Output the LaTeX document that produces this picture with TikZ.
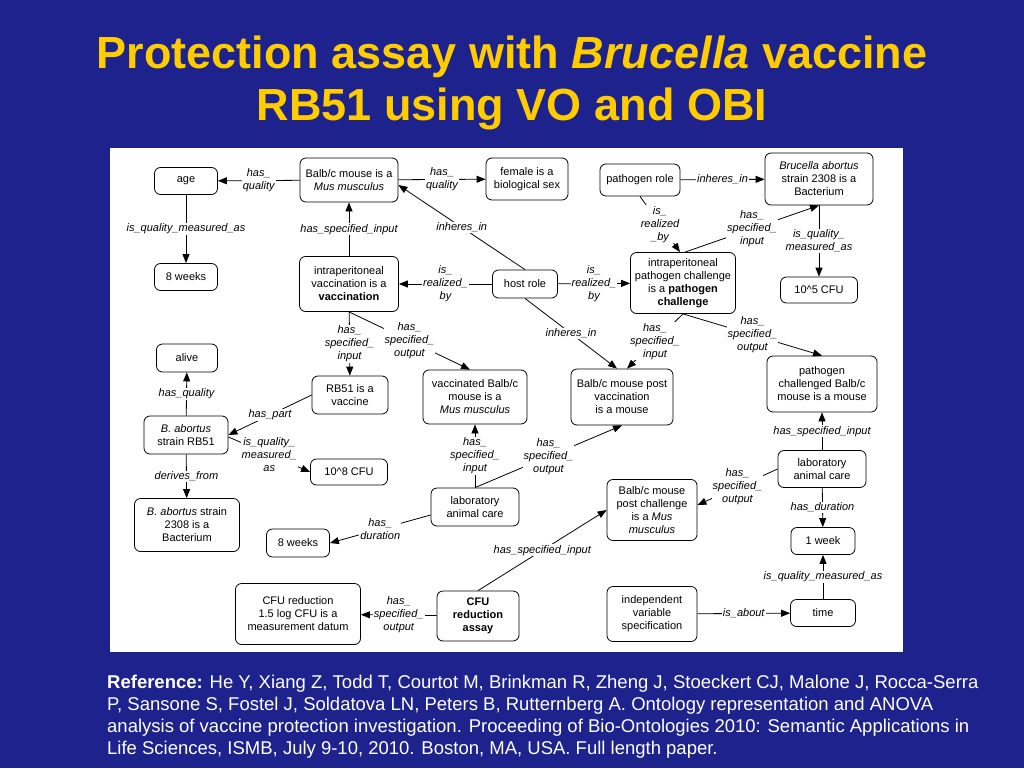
\documentclass[tikz,border=0pt]{standalone}
\usepackage{fontspec}
\setmainfont{Liberation Sans}
\usetikzlibrary{arrows.meta}
\definecolor{slideblue}{RGB}{30,34,140}
\definecolor{titleyellow}{RGB}{255,204,0}

\begin{document}
\begin{tikzpicture}[x=1pt, y=-1pt,
  box/.style={draw, line width=0.8pt, rounded corners=6pt, fill=white, align=center,
    inner sep=1pt, font=\fontsize{11}{13}\selectfont},
  rel/.style={fill=white, inner sep=1pt, align=center, font=\fontsize{11}{13}\selectfont\itshape},
  link/.style={line width=0.8pt, -{Triangle[length=9pt,width=7pt]}},
  reftext/.style={anchor=base west, inner sep=0pt, text=white, font=\fontsize{18.5}{22}\selectfont}]
  \useasboundingbox (0,0) rectangle (1024,768);
  \fill[slideblue] (0,0) rectangle (1024,768);
  \fill[white] (110,148) rectangle (903,652);
  % title
  \node[anchor=base, text=titleyellow, font=\fontsize{45}{52}\selectfont\bfseries] (titleA) at (512,68)
    {Protection assay with \textit{Brucella} vaccine};
  \node[anchor=base, text=titleyellow, font=\fontsize{45}{52}\selectfont\bfseries] (titleB) at (512,120)
    {RB51 using VO and OBI};
  % classes and instances
  \node[box, minimum width=63pt, minimum height=27pt] (age) at (186,181) {age};
  \node[box, minimum width=63pt, minimum height=27pt] (wkA) at (186,277) {8 weeks};
  \node[box, minimum width=98pt, minimum height=44pt] (mouse) at (349,180) {Balb/c mouse is a\\\textit{Mus musculus}};
  \node[box, minimum width=82pt, minimum height=42pt] (female) at (527,179) {female is a\\biological sex};
  \node[box, minimum width=80pt, minimum height=32pt] (prole) at (640,180) {pathogen role};
  \node[box, minimum width=108pt, minimum height=52pt] (bruc) at (819,179) {\textit{Brucella abortus}\\strain 2308 is a\\Bacterium};
  \node[box, minimum width=77pt, minimum height=26pt] (cfuV) at (819,290) {10\textasciicircum5 CFU};
  \node[box, minimum width=99pt, minimum height=55pt] (vacc) at (349,284) {intraperitoneal\\vaccination is a\\\textbf{vaccination}};
  \node[box, minimum width=65pt, minimum height=28pt] (host) at (525,284) {host role};
  \node[box, minimum width=105pt, minimum height=61pt] (chal) at (683,283) {intraperitoneal\\pathogen challenge\\is a \textbf{pathogen}\\\textbf{challenge}};
  \node[box, minimum width=61pt, minimum height=28pt] (alive) at (187,358) {alive};
  \node[box, minimum width=76pt, minimum height=38pt] (rb51) at (350,395) {RB51 is a\\vaccine};
  \node[box, minimum width=84pt, minimum height=38pt] (strRB) at (186,435) {\textit{B. abortus}\\strain RB51};
  \node[box, minimum width=104pt, minimum height=54pt] (vmouse) at (475,397) {vaccinated Balb/c\\mouse is a\\\textit{Mus musculus}};
  \node[box, minimum width=102pt, minimum height=56pt] (pvmouse) at (622,397) {Balb/c mouse post\\vaccination\\is a mouse};
  \node[box, minimum width=110pt, minimum height=56pt] (pcmouse) at (822,384) {pathogen\\challenged Balb/c\\mouse is a mouse};
  \node[box, minimum width=77pt, minimum height=26pt] (cfuVIII) at (349,472) {10\textasciicircum8 CFU};
  \node[box, minimum width=88pt, minimum height=37pt] (careR) at (822,469) {laboratory\\animal care};
  \node[box, minimum width=90pt, minimum height=61pt] (postch) at (652,510) {Balb/c mouse\\post challenge\\is a \textit{Mus}\\\textit{musculus}};
  \node[box, minimum width=105pt, minimum height=53pt] (str2308) at (187,525) {\textit{B. abortus} strain\\2308 is a\\Bacterium};
  \node[box, minimum width=88pt, minimum height=38pt] (careL) at (475,507) {laboratory\\animal care};
  \node[box, minimum width=63pt, minimum height=28pt] (wkB) at (298,543) {8 weeks};
  \node[box, minimum width=64pt, minimum height=27pt] (week) at (823,541) {1 week};
  \node[box, minimum width=125pt, minimum height=61pt] (datum) at (298,614) {CFU reduction\\1.5 log CFU is a\\measurement datum};
  \node[box, minimum width=82pt, minimum height=50pt, font=\fontsize{11}{13}\selectfont\bfseries] (assay) at (478,616) {CFU\\reduction\\assay};
  \node[box, minimum width=90pt, minimum height=55pt] (indep) at (652,614) {independent\\variable\\specification};
  \node[box, minimum width=65pt, minimum height=27pt] (time) at (823,613) {time};
  % relations
  \draw[link] (mouse) -- node[rel] {has\_\\quality} (age);
  \draw[link] (mouse) -- node[rel] {has\_\\quality} (female);
  \draw[link] (age) -- node[rel] {is\_quality\_measured\_as} (wkA);
  \draw[link] (vacc) -- node[rel] {has\_specified\_input} (mouse);
  \draw[link] (host.north) -- node[rel] {inheres\_in} ([yshift=-5pt]mouse.east);
  \draw[link] (host) -- node[rel] {is\_\\realized\_\\by} (vacc);
  \draw[link] (host) -- node[rel] {is\_\\realized\_\\by} (chal);
  \draw[link] (host.south) -- node[rel] {inheres\_in} ([xshift=-5pt]pvmouse.north);
  \draw[link] (prole) -- node[rel] {inheres\_in} (bruc);
  \draw[link] (prole.south) -- node[rel] {is\_\\realized\\\_by} ([xshift=-3pt]chal.north);
  \draw[link] ([xshift=2pt]chal.north) -- node[rel] {has\_\\specified\_\\input} (bruc.south);
  \draw[link] (bruc) -- node[rel] {is\_quality\_\\measured\_as} (cfuV);
  \draw[link] (vacc) -- node[rel] {has\_\\specified\_\\input} (rb51);
  \draw[link] (vacc.south) -- node[rel] {has\_\\specified\_\\output} ([xshift=-5pt]vmouse.north);
  \draw[link] (strRB) -- node[rel] {has\_quality} (alive);
  \draw[link] (rb51.west) -- node[rel] {has\_part} (strRB.east);
  \draw[link] ([yshift=-2pt]strRB.east) -- node[rel] {is\_quality\_\\measured\_\\as} (cfuVIII.west);
  \draw[link] (strRB) -- node[rel] {derives\_from} (str2308);
  \draw[link] (careL) -- node[rel] {has\_\\specified\_\\input} (vmouse);
  \draw[link] (careL.north) -- node[rel] {has\_\\specified\_\\output} (pvmouse.south);
  \draw[link] ([yshift=-8pt]careL.west) -- node[rel] {has\_\\duration} (wkB.east);
  \draw[link] (chal.south) -- node[rel] {has\_\\specified\_\\input} ([xshift=5pt]pvmouse.north);
  \draw[link] (chal.south) -- node[rel] {has\_\\specified\_\\output} (pcmouse.north);
  \draw[link] (careR) -- node[rel] {has\_specified\_input} (pcmouse);
  \draw[link] (careR.west) -- node[rel] {has\_\\specified\_\\output} ([yshift=5pt]postch.east);
  \draw[link] (careR) -- node[rel] {has\_duration} (week);
  \draw[link] (time) -- node[rel] {is\_quality\_measured\_as} (week);
  \draw[link] (indep) -- node[rel] {is\_about} (time);
  \draw[link] (assay.north) -- node[rel] {has\_specified\_input} (postch.west);
  \draw[link] (assay) -- node[rel] {has\_\\specified\_\\output} (datum);
  % reference
  \node[reftext] (refA) at (107,688)
    {\textbf{Reference:} He Y, Xiang Z, Todd T, Courtot M, Brinkman R, Zheng J, Stoeckert CJ, Malone J, Rocca-Serra};
  \node[reftext] (refB) at (107,710)
    {P, Sansone S, Fostel J, Soldatova LN, Peters B, Rutternberg A. Ontology representation and ANOVA};
  \node[reftext] (refC) at (107,732)
    {analysis of vaccine protection investigation. Proceeding of Bio-Ontologies 2010: Semantic Applications in};
  \node[reftext] (refD) at (107,754)
    {Life Sciences, ISMB, July 9-10, 2010. Boston, MA, USA. Full length paper.};
\end{tikzpicture}
\end{document}
